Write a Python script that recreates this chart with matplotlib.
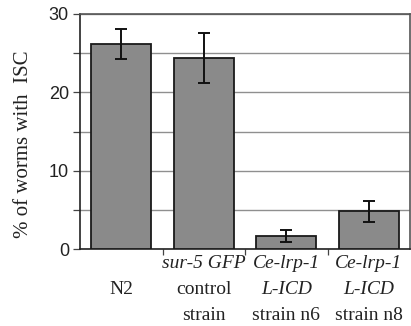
import matplotlib
matplotlib.use("Agg")
import matplotlib.pyplot as plt
from matplotlib.transforms import blended_transform_factory

# Data
categories = ["N2", "sur-5 GFP control strain", "Ce-lrp-1 L-ICD strain n6", "Ce-lrp-1 L-ICD strain n8"]
values = [26.2, 24.4, 1.7, 4.8]
errors = [1.9, 3.2, 0.75, 1.35]
yticks_major = [0, 10, 20, 30]
yticks_minor = [5, 15, 25]

# label lines: (text, italic) per line position (0 top, 1 middle, 2 bottom)
label_lines = [
    [(None, False), ("N2", False), (None, False)],
    [("sur-5 GFP", True), ("control", False), ("strain", False)],
    [("Ce-lrp-1", True), ("L-ICD", True), ("strain n6", False)],
    [("Ce-lrp-1", True), ("L-ICD", True), ("strain n8", False)],
]

W, H = 411, 326
fig = plt.figure(figsize=(W / 100, H / 100), dpi=100)
ax = fig.add_axes([80 / W, 77 / H, 330 / W, 235 / H])

x = list(range(len(values)))
ax.bar(x, values, width=0.73, color="#8a8a8a", edgecolor="#1a1a1a", linewidth=1.3, zorder=3)
ax.errorbar(x, values, yerr=errors, fmt="none", ecolor="#111111", elinewidth=1.4,
            capsize=4.5, capthick=1.4, zorder=4)

ax.set_xlim(-0.5, 3.5)
ax.set_ylim(0, 30)

ax.set_yticks(yticks_major)
ax.set_yticks(yticks_major + yticks_minor, minor=True)
ax.set_yticklabels([str(v) for v in yticks_major], fontfamily="Liberation Sans", fontsize=13,
                   color="#222222")
ax.tick_params(axis="y", which="both", direction="out", length=5, width=0.9, color="#444444", pad=3)
ax.yaxis.grid(True, which="both", color="#8f8f8f", linewidth=1.0, zorder=0)

ax.set_xticks([])
ax.set_xticks([0.5, 1.5, 2.5], minor=True)
ax.tick_params(axis="x", which="minor", direction="out", length=4, width=0.9, color="#444444")

for side in ["left", "bottom"]:
    ax.spines[side].set_color("#222222")
    ax.spines[side].set_linewidth(1.2)
for side in ["top", "right"]:
    ax.spines[side].set_color("#555555")
    ax.spines[side].set_linewidth(1.2)

ax.set_ylabel("% of worms with  ISC", fontfamily="Liberation Serif", fontsize=15, va="center",
              color="#222222")
ax.yaxis.set_label_coords(-0.17, 0.445)

tr = blended_transform_factory(ax.transData, fig.transFigure)
line_y = [(H - 263) / H, (H - 289) / H, (H - 315) / H]
for i, lines in enumerate(label_lines):
    for j, (txt, it) in enumerate(lines):
        if txt is None:
            continue
        ax.text(i, line_y[j], txt, transform=tr, ha="center", va="center",
                fontfamily="Liberation Serif", fontsize=14, color="#222222",
                fontstyle="italic" if it else "normal", clip_on=False)

fig.savefig("out.png", dpi=100)
